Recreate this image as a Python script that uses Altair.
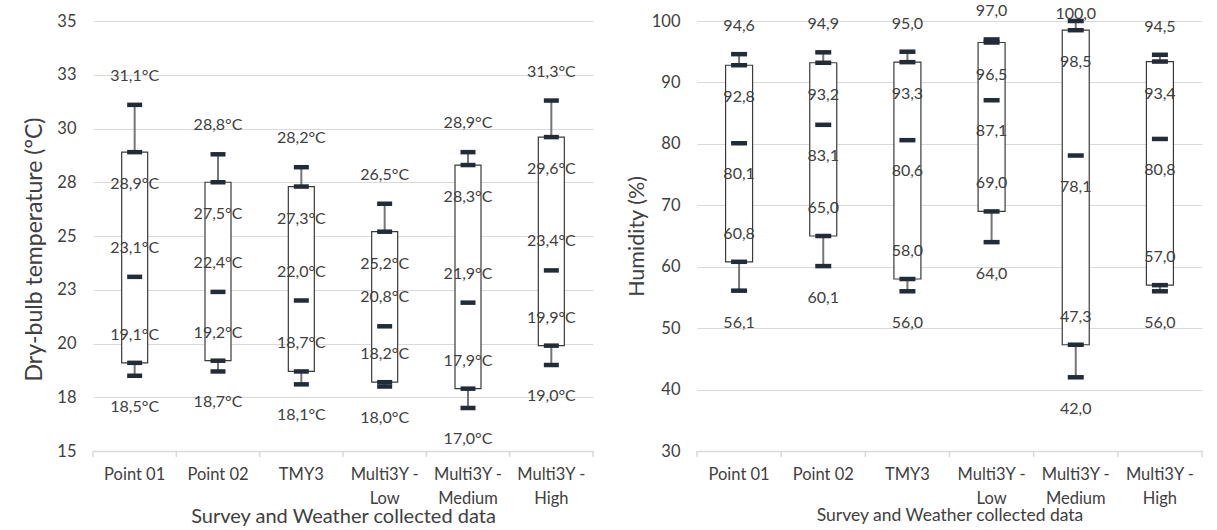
import altair as alt
import pandas as pd

categories = ["Point 01", "Point 02", "TMY3", "Multi3Y - Low", "Multi3Y - Medium", "Multi3Y - High"]

temp_min = [18.5, 18.7, 18.1, 18.0, 17.0, 19.0]
temp_q1 = [19.1, 19.2, 18.7, 18.2, 17.9, 19.9]
temp_med = [23.1, 22.4, 22.0, 20.8, 21.9, 23.4]
temp_q3 = [28.9, 27.5, 27.3, 25.2, 28.3, 29.6]
temp_max = [31.1, 28.8, 28.2, 26.5, 28.9, 31.3]

hum_min = [56.1, 60.1, 56.0, 64.0, 42.0, 56.0]
hum_q1 = [60.8, 65.0, 58.0, 69.0, 47.3, 57.0]
hum_med = [80.1, 83.1, 80.6, 87.1, 78.1, 80.8]
hum_q3 = [92.8, 93.2, 93.3, 96.5, 98.5, 93.4]
hum_max = [94.6, 94.9, 95.0, 97.0, 100.0, 94.5]

temp_ticks = [15, 17.5, 20, 22.5, 25, 27.5, 30, 32.5, 35]
hum_ticks = [30, 40, 50, 60, 70, 80, 90, 100]

FONT = "Lato"
TXT = "#404040"
GRID = "#d9d9d9"
TICKC = "#222b38"
H = 430

temp_df = pd.DataFrame({"cat": categories, "min": temp_min, "q1": temp_q1, "med": temp_med,
                        "q3": temp_q3, "max": temp_max})
hum_df = pd.DataFrame({"cat": categories, "min": hum_min, "q1": hum_q1, "med": hum_med,
                       "q3": hum_q3, "max": hum_max})

label_expr_x = ("indexof(datum.value, ' - ') > 0 ? "
                "[split(datum.value, ' - ')[0] + ' -', split(datum.value, ' - ')[1]] : datum.value")


def panel(df, ytitle, domain, ticks, suffix, offsets, width, box_w, tick_w,
          xtitle_size, ytitle_size, ytitle_pad, ytitle_y, clamp=None):
    xaxis = alt.Axis(title="Survey and Weather collected data", labelExpr=label_expr_x,
                     labelFont=FONT, labelFontSize=16.5, labelColor=TXT, labelAngle=0,
                     labelLineHeight=24, labelPadding=15, ticks=False,
                     titleFont=FONT, titleFontSize=xtitle_size, titleColor=TXT,
                     titleFontWeight="normal", titlePadding=0,
                     domainColor=GRID, domainWidth=1.5, grid=False)
    xscale = alt.Scale(paddingInner=0, paddingOuter=0)
    x = alt.X("cat:N", sort=categories, axis=xaxis, scale=xscale)
    yscale = alt.Scale(domain=domain, nice=False, zero=False)
    yaxis = alt.Axis(title=ytitle, values=ticks, format=".0f", labelFont=FONT,
                     labelFontSize=16.5, labelColor=TXT, labelPadding=17, ticks=False,
                     domain=False, grid=True, gridColor=GRID, gridWidth=1.2,
                     titleFont=FONT, titleFontSize=ytitle_size, titleColor=TXT,
                     titleFontWeight="normal", titlePadding=ytitle_pad, titleY=ytitle_y)

    base = alt.Chart(df)
    # category-boundary tick marks on the x axis (Excel style)
    bticks = base.mark_rule(color=GRID, strokeWidth=1.5).encode(
        x=alt.X("cat:N", sort=categories, axis=xaxis, scale=xscale, bandPosition=0),
        y=alt.value(H), y2=alt.value(H + 6))
    bticks_end = base.transform_filter(alt.datum.cat == categories[-1]).mark_rule(
        color=GRID, strokeWidth=1.5).encode(
        x=alt.X("cat:N", sort=categories, axis=xaxis, scale=xscale, bandPosition=1),
        y=alt.value(H), y2=alt.value(H + 6))
    whisk = base.mark_rule(color="#767676", strokeWidth=2).encode(
        x=x, y=alt.Y("min:Q", scale=yscale, axis=yaxis), y2="max:Q")
    box = base.mark_bar(size=box_w, fill="white", stroke="#3a3a3a", strokeWidth=1.2).encode(
        x=x, y=alt.Y("q1:Q", scale=yscale, axis=yaxis), y2="q3:Q")
    tks = base.transform_fold(["min", "q1", "med", "q3", "max"], as_=["stat", "val"]).mark_tick(
        color=TICKC, thickness=4.5, size=tick_w, opacity=1).encode(
        x=x, y=alt.Y("val:Q", scale=yscale, axis=yaxis))
    layers = [whisk, box, tks, bticks, bticks_end]
    for stat, dy in offsets.items():
        src = base
        if clamp is not None and stat == clamp[0]:
            src = base.transform_filter(alt.datum.cat != clamp[1])
        layers.append(src.transform_calculate(
            lbl="replace(format(datum['%s'], '.1f'), '.', ',') + '%s'" % (stat, suffix)
        ).mark_text(dy=dy, font=FONT, fontSize=16, color=TXT, baseline="middle").encode(
            x=x, y=alt.Y("%s:Q" % stat, scale=yscale, axis=yaxis), text="lbl:N"))
    if clamp is not None:
        stat, cat, dy = clamp
        layers.append(base.transform_filter(alt.datum.cat == cat).transform_calculate(
            lbl="replace(format(datum['%s'], '.1f'), '.', ',') + '%s'" % (stat, suffix)
        ).mark_text(dy=dy, font=FONT, fontSize=16, color=TXT, baseline="middle").encode(
            x=x, y=alt.Y("%s:Q" % stat, scale=yscale, axis=yaxis), text="lbl:N"))
    return alt.layer(*layers).properties(width=width, height=H)


left = panel(temp_df, "Dry-bulb temperature (°C)", [15, 35], temp_ticks, "°C",
             {"max": -29, "q3": 32, "med": -29, "q1": -28, "min": 31},
             500, 26, 15, 20, 23, 10, 228)
right = panel(hum_df, "Humidity (%)", [30, 100], hum_ticks, "",
              {"max": -28, "q3": 32, "med": 31, "q1": -28, "min": 32},
              505, 27, 16, 17.5, 21.5, 3, 215, clamp=("max", "Multi3Y - Medium", -7))

chart = alt.hconcat(left, right, spacing=32).properties(
    padding={"left": 23, "top": 3, "right": 5, "bottom": 0},
    background="white",
).configure_view(stroke=None)

chart.save("out.html", embed_options={"renderer": "svg", "actions": False})
